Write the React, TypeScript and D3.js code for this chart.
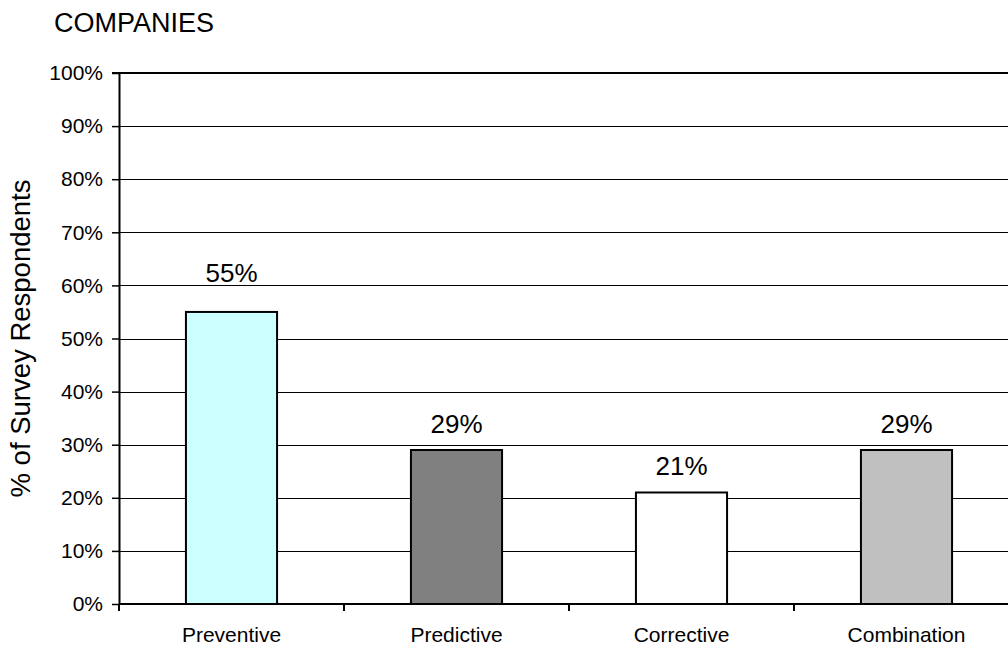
import React, { useEffect, useRef } from 'react';
import * as d3 from 'd3';

const categories = ['Preventive', 'Predictive', 'Corrective', 'Combination'];
const values = [55, 29, 21, 29];
const barColors = ['#ccffff', '#808080', '#ffffff', '#c0c0c0'];
const yTicks = [0, 10, 20, 30, 40, 50, 60, 70, 80, 90, 100];

const App = () => {
  const chart = useRef<SVGSVGElement>(null);

  useEffect(() => {
    const width = 1008;
    const height = 650;
    const margin = { top: 73, left: 119, bottom: 604, right: 1019 };
    const font = "'Liberation Sans', Arial, sans-serif";

    const svg = d3.select(chart.current);
    svg.selectAll('*').remove();
    svg.attr('width', width).attr('height', height);

    const xScale = d3
      .scaleBand<string>()
      .domain(categories)
      .range([margin.left, margin.right])
      .paddingInner(0.595)
      .paddingOuter(0.2975);

    const step = xScale.step();

    const yScale = d3
      .scaleLinear()
      .domain([0, 100])
      .range([margin.bottom, margin.top]);

    // gridlines
    svg
      .append('g')
      .selectAll('line')
      .data(yTicks.filter((t) => t > 0 && t < 100))
      .join('line')
      .attr('x1', margin.left)
      .attr('x2', margin.right)
      .attr('y1', (d) => Math.round(yScale(d)) + 0.5)
      .attr('y2', (d) => Math.round(yScale(d)) + 0.5)
      .attr('stroke', '#000')
      .attr('stroke-width', 1);

    // top border
    svg
      .append('line')
      .attr('x1', margin.left - 7)
      .attr('x2', margin.right)
      .attr('y1', yScale(100))
      .attr('y2', yScale(100))
      .attr('stroke', '#000')
      .attr('stroke-width', 2);

    // bars
    svg
      .append('g')
      .selectAll('rect')
      .data(values)
      .join('rect')
      .attr('x', (d, i) => xScale(categories[i]) as number)
      .attr('y', (d) => yScale(d))
      .attr('width', xScale.bandwidth())
      .attr('height', (d) => yScale(0) - yScale(d))
      .attr('fill', (d, i) => barColors[i])
      .attr('stroke', '#000')
      .attr('stroke-width', 2);

    // value labels, nudged above a gridline when they would cross one
    const labelSize = 26;
    const labelY = (v: number) => {
      let base = yScale(v) - 17;
      const top = base - labelSize * 0.7;
      yTicks.forEach((t) => {
        const gy = yScale(t);
        if (gy > top && gy < base) base = gy - 3;
      });
      return base;
    };

    svg
      .append('g')
      .selectAll('text')
      .data(values)
      .join('text')
      .attr('x', (d, i) => (xScale(categories[i]) as number) + xScale.bandwidth() / 2)
      .attr('y', (d) => labelY(d))
      .attr('text-anchor', 'middle')
      .attr('font-family', font)
      .attr('font-size', labelSize)
      .text((d) => d + '%');

    // y axis
    const yAxis = d3
      .axisLeft(yScale)
      .tickValues(yTicks)
      .tickFormat((d) => d + '%')
      .tickSize(7)
      .tickSizeOuter(0);

    const yG = svg
      .append('g')
      .attr('transform', `translate(${margin.left},0)`)
      .call(yAxis);
    yG.select('.domain').attr('stroke-width', 2);
    yG.selectAll('.tick line').attr('stroke-width', 1.5);
    yG.selectAll('.tick text')
      .attr('x', -16)
      .attr('font-family', font)
      .attr('font-size', 21)
      .attr('fill', '#000');

    // x axis line and category boundary ticks
    svg
      .append('line')
      .attr('x1', margin.left)
      .attr('x2', margin.right)
      .attr('y1', margin.bottom)
      .attr('y2', margin.bottom)
      .attr('stroke', '#000')
      .attr('stroke-width', 2);

    svg
      .append('g')
      .selectAll('line')
      .data(d3.range(categories.length + 1))
      .join('line')
      .attr('x1', (i) => margin.left + i * step)
      .attr('x2', (i) => margin.left + i * step)
      .attr('y1', margin.bottom)
      .attr('y2', margin.bottom + 7)
      .attr('stroke', '#000')
      .attr('stroke-width', 2);

    svg
      .append('g')
      .selectAll('text')
      .data(categories)
      .join('text')
      .attr('x', (d) => (xScale(d) as number) + xScale.bandwidth() / 2)
      .attr('y', 642)
      .attr('text-anchor', 'middle')
      .attr('font-family', font)
      .attr('font-size', 21)
      .text((d) => d);

    // title
    svg
      .append('text')
      .attr('x', 54)
      .attr('y', 32)
      .attr('font-family', font)
      .attr('font-size', 27)
      .text('COMPANIES');

    // y axis label
    svg
      .append('text')
      .attr('transform', `translate(30,${(margin.top + margin.bottom) / 2}) rotate(-90)`)
      .attr('text-anchor', 'middle')
      .attr('font-family', font)
      .attr('font-size', 27.5)
      .text('% of Survey Respondents');
  }, []);

  return (
    <div style={{ position: 'absolute', left: 0, top: 0, width: 1008, height: 650, overflow: 'hidden', background: '#fff' }}>
      <svg ref={chart} style={{ display: 'block' }}></svg>
    </div>
  );
};

export default App;
